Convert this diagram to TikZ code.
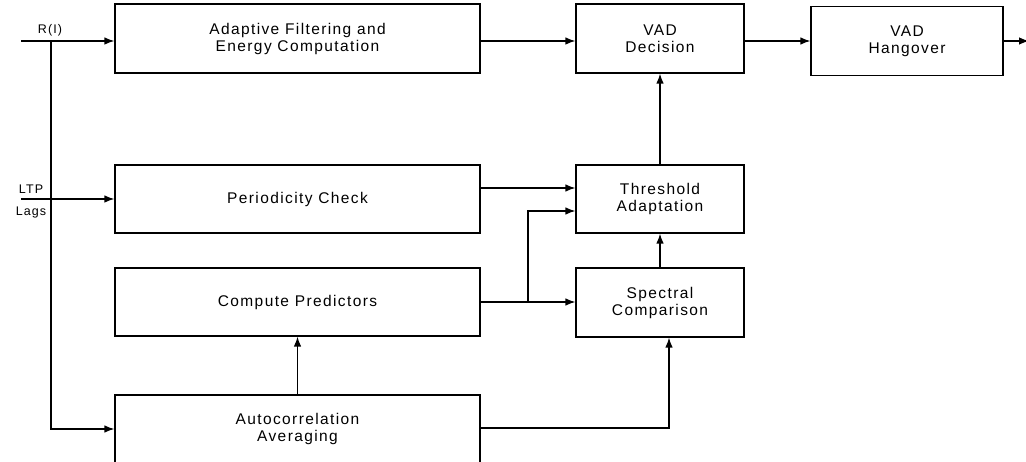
\documentclass[tikz,border=0pt]{standalone}
\usepackage{fontspec}
\setmainfont{Liberation Sans}[LetterSpace=9]
\usetikzlibrary{arrows.meta}

\begin{document}
\begin{tikzpicture}[x=1pt,y=-1pt,
    block/.style={draw, line width=1.2pt, inner sep=0pt, align=center,
      font=\fontsize{15.5}{17}\selectfont},
    wideblock/.style={block, minimum width=365pt, minimum height=68pt},
    smallblock/.style={block, minimum width=168pt, minimum height=69pt},
    sig/.style={line width=1.2pt, -{Latex[length=10pt,width=7.5pt]}},
    lbl/.style={inner sep=0pt, font=\fontsize{12.5}{14}\selectfont}]
  \useasboundingbox (0,0) rectangle (1026,462);

  % processing blocks
  \node[wideblock, minimum height=69pt] (filt) at (297.5,38.5) {Adaptive Filtering and\\Energy Computation};
  \node[wideblock] (period) at (297.5,199) {Periodicity Check};
  \node[wideblock] (predict) at (297.5,302) {Compute Predictors};
  \node[wideblock] (autocorr) at (297.5,429) {Autocorrelation\\Averaging};
  \node[smallblock] (decision) at (660,38.5) {VAD\\Decision};
  \node[smallblock, minimum width=192pt] (hangover) at (907,41) {VAD\\Hangover};
  \node[smallblock, minimum height=68pt] (thresh) at (660,199) {Threshold\\Adaptation};
  \node[smallblock] (spectral) at (660,302.5) {Spectral\\Comparison};

  % inputs and branch points
  \coordinate (rin) at (21,41);
  \coordinate (rtap) at (51,41);
  \coordinate (ltpin) at (21,199);
  \coordinate (split) at (528,302);
  \coordinate (vadout) at (1029,41);
  \node[lbl] (rlabel) at (50,30) {R(I)};
  \node[lbl] (ltplabel) at (31,189) {LTP};
  \node[lbl] (lagslabel) at (31,212) {Lags};

  % connections
  \draw[sig] (rin) -- (rin -| filt.west);
  \draw[sig] (rtap) |- (autocorr.west);
  \draw[sig] (ltpin) -- (period.west);
  \draw[sig] ([yshift=-2.5pt]filt.east) -- ([yshift=-2.5pt]decision.west);
  \draw[sig] ([yshift=-2.5pt]decision.east) -- (hangover.west);
  \draw[sig] (hangover.east) -- (vadout);
  \draw[sig] (thresh.north) -- (decision.south);
  \draw[sig] ([yshift=11pt]period.east) -- ([yshift=11pt]thresh.west);
  \draw[sig] (predict.east) -- (predict.east -| spectral.west);
  \draw[sig] (split) |- ([yshift=-12pt]thresh.west);
  \draw[sig] (spectral.north) -- (thresh.south);
  \draw[sig] (autocorr.north) -- (predict.south);
  \draw[sig] ([yshift=1pt]autocorr.east) -| ([xshift=9pt]spectral.south);
\end{tikzpicture}
\end{document}
